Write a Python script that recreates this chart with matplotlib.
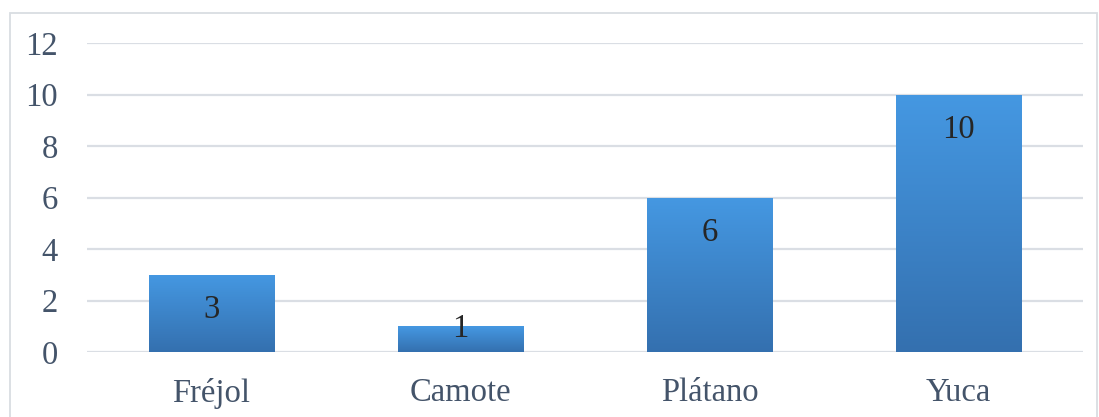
import matplotlib
matplotlib.use("Agg")
import matplotlib.pyplot as plt
import numpy as np
from matplotlib.colors import LinearSegmentedColormap
from matplotlib.patches import Rectangle

categories = ["Fréjol", "Camote", "Plátano", "Yuca"]
values = [3, 1, 6, 10]
yticks = [0, 2, 4, 6, 8, 10, 12]

plt.rcParams['font.family'] = ['Liberation Serif', 'DejaVu Serif']

W, H = 1099, 417
fig = plt.figure(figsize=(W / 100, H / 100), dpi=100)
ax = fig.add_axes([87 / W, 1 - 352 / H, (1083 - 87) / W, (352 - 43) / H])

x = np.arange(len(categories))
bars = ax.bar(x, values, width=0.506, color="#3d85d0", zorder=3)

cmap = LinearSegmentedColormap.from_list("g", ["#3470af", "#4598e2"])
grad = np.linspace(0, 1, 256).reshape(-1, 1)
for b in bars:
    bx, by, bw, bh = b.get_x(), b.get_y(), b.get_width(), b.get_height()
    ax.add_patch(Rectangle((bx + 0.004, by - 0.06), bw, bh, color="#000000",
                           alpha=0.12, zorder=2, linewidth=0))
    im = ax.imshow(grad, extent=[bx, bx + bw, by, by + bh], origin="lower",
                   cmap=cmap, aspect="auto", zorder=4, interpolation="bicubic")
    im.set_clip_path(b)

for xi, v in zip(x, values):
    ty = v - 1.35 if v > 2 else v - 0.08
    ax.text(xi, ty, str(v), ha="center", va="center", fontsize=23.5,
            color="#262626", zorder=5)

ax.set_xlim(-0.5, len(categories) - 0.5)
ax.set_ylim(0, 12)
ax.set_yticks(yticks)
ax.set_yticklabels([str(t) for t in yticks])
ax.set_xticks(x)
ax.set_xticklabels(categories)
ax.tick_params(axis="both", length=0, labelsize=23.5, labelcolor="#44546a")
ax.tick_params(axis="y", pad=21)
ax.tick_params(axis="x", pad=18.5)
ax.grid(axis="y", color="#dadee4", linewidth=1.6, zorder=0)
for s in ax.spines.values():
    s.set_visible(False)

fig.add_artist(Rectangle((10 / W, -0.01), (1097 - 10) / W, 1 - 13 / H + 0.01,
                         transform=fig.transFigure, fill=False,
                         edgecolor="#d9dde2", linewidth=1.3))

fig.savefig("out.png", dpi=100)
